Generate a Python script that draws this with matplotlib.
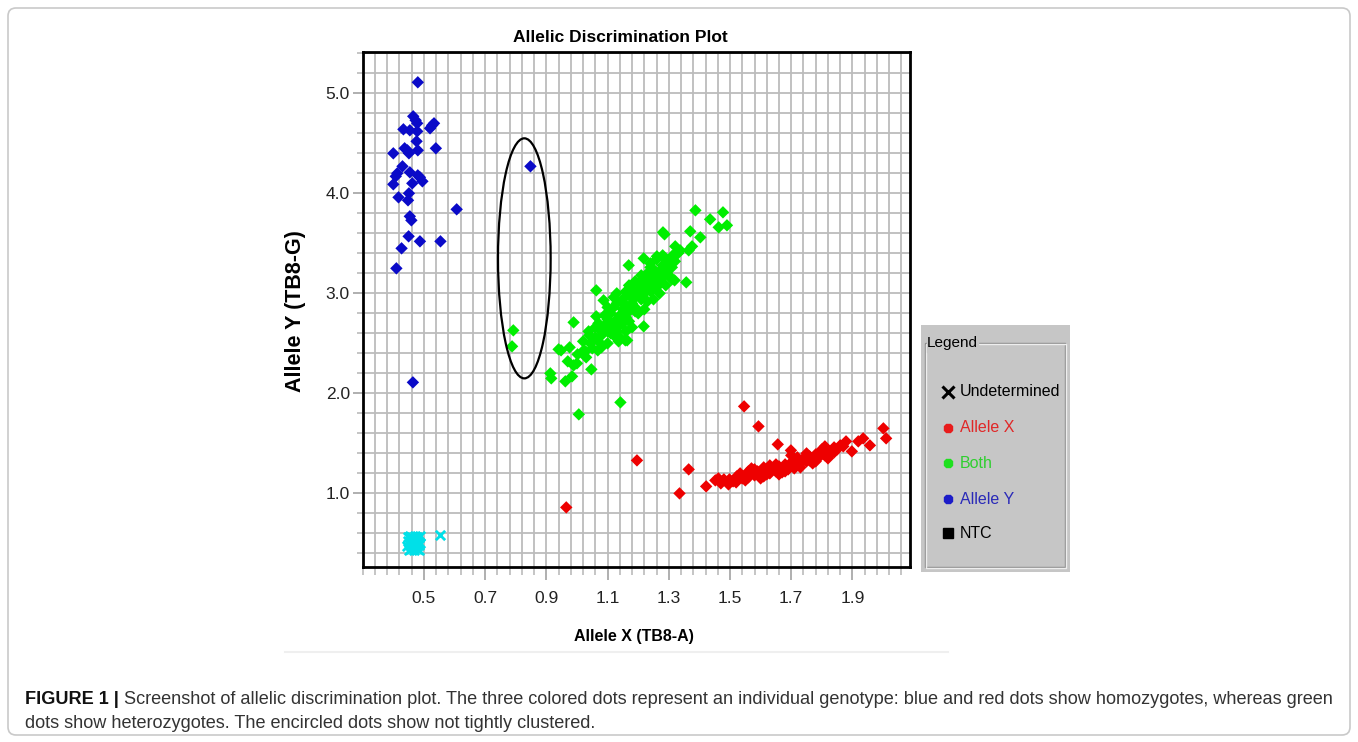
import matplotlib
matplotlib.use('Agg')
import matplotlib.pyplot as plt
import matplotlib.font_manager as fm
from matplotlib.patches import Ellipse, FancyBboxPatch
import numpy as np

# ---- data ----
allele_y_x = [0.480, 0.465, 0.473, 0.478, 0.433, 0.454, 0.478, 0.520, 0.527, 0.533,
              0.476, 0.400, 0.437, 0.446, 0.451, 0.480, 0.539, 0.413, 0.430, 0.454,
              0.480, 0.487, 0.400, 0.495, 0.462, 0.417, 0.451, 0.448, 0.607, 0.454,
              0.459, 0.450, 0.487, 0.554, 0.427, 0.410, 0.408, 0.464, 0.848]
allele_y_y = [5.11, 4.77, 4.73, 4.70, 4.64, 4.63, 4.62, 4.65, 4.68, 4.70,
              4.52, 4.40, 4.45, 4.43, 4.40, 4.43, 4.45, 4.20, 4.27, 4.21,
              4.18, 4.16, 4.09, 4.12, 4.10, 3.96, 4.00, 3.93, 3.84, 3.77,
              3.73, 3.57, 3.52, 3.52, 3.45, 3.25, 4.17, 2.11, 4.27]

both_x = [0.792, 0.788, 0.913, 0.916, 0.940, 0.948, 0.962, 0.976, 0.984, 0.989,
          0.989, 1.002, 1.006, 1.022, 1.028, 1.038, 1.044, 1.047, 1.063, 1.063,
          1.068, 1.077, 1.087, 1.093, 1.136, 1.142, 1.158, 1.164, 1.169, 1.218,
          1.218, 1.240, 1.261, 1.281, 1.286, 1.294, 1.310, 1.319, 1.321, 1.321,
          1.337, 1.357, 1.365, 1.370, 1.376, 1.387, 1.403, 1.435, 1.463, 1.477,
          1.490,
          1.08, 1.09, 1.10, 1.10, 1.11, 1.11, 1.12, 1.12, 1.13, 1.13,
          1.14, 1.14, 1.15, 1.15, 1.16, 1.16, 1.17, 1.17, 1.18, 1.18,
          1.19, 1.19, 1.20, 1.20, 1.21, 1.21, 1.22, 1.22, 1.23, 1.23,
          1.24, 1.24, 1.25, 1.25, 1.26, 1.26, 1.27, 1.27, 1.28, 1.28,
          1.29, 1.30, 1.30, 1.31, 1.32, 1.12, 1.15, 1.17, 1.06, 1.07,
          1.10, 1.05, 1.03, 1.08, 1.13, 1.20, 1.23, 1.16, 1.19, 1.26,
          1.02, 1.00, 0.97,
          1.10, 1.12, 1.14, 1.16, 1.18, 1.21, 1.24, 1.27, 1.29, 1.31,
          1.09, 1.06, 1.13, 1.17, 1.22, 1.25, 1.11, 1.15, 1.19, 1.23,
          1.28, 1.33, 1.04, 1.07]
both_y = [2.63, 2.47, 2.20, 2.15, 2.44, 2.43, 2.12, 2.46, 2.17, 2.28,
          2.71, 2.39, 1.79, 2.43, 2.42, 2.62, 2.50, 2.24, 3.03, 2.77,
          2.43, 2.63, 2.93, 2.65, 2.52, 1.91, 2.53, 2.53, 3.28, 3.35,
          2.67, 3.30, 3.37, 3.61, 3.59, 3.33, 3.37, 3.13, 3.40, 3.47,
          3.43, 3.11, 3.43, 3.62, 3.47, 3.83, 3.56, 3.74, 3.66, 3.81,
          3.68,
          2.58, 2.68, 2.62, 2.74, 2.70, 2.80, 2.66, 2.86, 2.74, 2.90,
          2.78, 2.68, 2.84, 2.94, 2.76, 2.88, 2.82, 2.98, 2.90, 3.04,
          2.86, 2.96, 3.00, 3.10, 2.94, 3.06, 3.14, 3.00, 3.08, 3.20,
          3.02, 3.14, 3.10, 3.24, 3.18, 3.06, 3.22, 3.12, 3.28, 3.16,
          3.22, 3.30, 3.18, 3.26, 3.32, 2.58, 2.70, 2.72, 2.56, 2.52,
          2.50, 2.45, 2.36, 2.46, 2.62, 2.80, 2.92, 3.02, 3.12, 3.34,
          2.52, 2.30, 2.32,
          2.86, 2.96, 2.56, 2.62, 2.66, 3.18, 3.26, 3.00, 3.08, 3.14,
          2.78, 2.66, 3.00, 3.08, 2.84, 2.94, 2.60, 2.78, 2.82, 3.12,
          3.38, 3.40, 2.58, 2.70]

allele_x_x = [0.965, 1.196, 1.335, 1.365, 1.546, 1.593, 1.656, 1.699, 2.001, 2.010,
              1.957, 1.935, 1.919, 1.898, 1.879,
              1.422, 1.452, 1.462, 1.480, 1.495, 1.498, 1.510, 1.522, 1.533, 1.540,
              1.550, 1.560, 1.570, 1.580, 1.590, 1.600, 1.610, 1.620, 1.630, 1.640,
              1.650, 1.660, 1.670, 1.680, 1.690, 1.700, 1.710, 1.720, 1.730, 1.740,
              1.750, 1.760, 1.770, 1.780, 1.790, 1.800, 1.810, 1.820, 1.830, 1.840,
              1.850, 1.860, 1.870, 1.630, 1.580, 1.680, 1.730, 1.780, 1.550, 1.600,
              1.660, 1.700, 1.750, 1.810, 1.520, 1.470, 1.570,
              1.560, 1.610, 1.650, 1.690, 1.720, 1.760, 1.800, 1.840, 1.620, 1.670,
              1.710, 1.770, 1.820]
allele_x_y = [0.86, 1.33, 1.00, 1.24, 1.87, 1.67, 1.49, 1.43, 1.65, 1.55,
              1.48, 1.55, 1.52, 1.42, 1.52,
              1.07, 1.13, 1.15, 1.14, 1.09, 1.14, 1.12, 1.17, 1.20, 1.15,
              1.18, 1.16, 1.20, 1.18, 1.22, 1.20, 1.17, 1.23, 1.20, 1.25,
              1.22, 1.27, 1.24, 1.29, 1.26, 1.31, 1.28, 1.33, 1.30, 1.35,
              1.32, 1.37, 1.34, 1.39, 1.36, 1.41, 1.38, 1.43, 1.40, 1.46,
              1.44, 1.48, 1.47, 1.28, 1.24, 1.22, 1.26, 1.32, 1.13, 1.15,
              1.19, 1.38, 1.40, 1.47, 1.11, 1.10, 1.25,
              1.22, 1.26, 1.29, 1.24, 1.36, 1.33, 1.44, 1.41, 1.19, 1.21,
              1.25, 1.30, 1.35]

ntc_x = [0.447, 0.455, 0.462, 0.470, 0.478, 0.486, 0.449, 0.458, 0.466, 0.474,
         0.482, 0.487, 0.446, 0.453, 0.461, 0.469, 0.477, 0.485, 0.450, 0.459,
         0.467, 0.476, 0.484, 0.552]
ntc_y = [0.56, 0.57, 0.56, 0.57, 0.56, 0.57, 0.52, 0.51, 0.52, 0.51,
         0.52, 0.50, 0.47, 0.48, 0.47, 0.46, 0.47, 0.48, 0.43, 0.44,
         0.43, 0.44, 0.43, 0.585]

x_labels = ['0.5', '0.7', '0.9', '1.1', '1.3', '1.5', '1.7', '1.9']
y_labels = ['1.0', '2.0', '3.0', '4.0', '5.0']
legend_names = ['Undetermined', 'Allele X', 'Both', 'Allele Y', 'NTC']

caption_bold = 'FIGURE 1 |'
caption_1 = ('Screenshot of allelic discrimination plot. The three colored dots represent an '
             'individual genotype: blue and red dots show homozygotes, whereas green')
caption_2 = 'dots show heterozygotes. The encircled dots show not tightly clustered.'

# ---- fonts ----
names = {f.name for f in fm.fontManager.ttflist}
NARROW = 'Liberation Sans Narrow' if 'Liberation Sans Narrow' in names else 'Liberation Sans'
plt.rcParams['font.family'] = ['Liberation Sans', 'DejaVu Sans']

W, H = 1358, 742
fig = plt.figure(figsize=(W / 100, H / 100), dpi=100)

# background axes in pixel coordinates
bg = fig.add_axes([0, 0, 1, 1], zorder=0)
bg.set_xlim(0, W)
bg.set_ylim(H, 0)
bg.axis('off')
bg.add_patch(FancyBboxPatch((8, 8), 1342, 727, boxstyle='round,pad=0,rounding_size=8',
                            fc='white', ec='#c9c9c9', lw=1.2))
bg.plot([285, 948], [652, 652], color='#efefef', lw=1.5)

bg.text(620, 38, 'Allelic Discrimination Plot', ha='center', va='center',
        family=NARROW, fontweight='bold', fontsize=12.5)
bg.text(634, 636, 'Allele X (TB8-A)', ha='center', va='center',
        family=NARROW, fontweight='bold', fontsize=11.5)
bg.text(296, 311, 'Allele Y (TB8-G)', ha='center', va='center', rotation=90,
        family='Liberation Sans', fontweight='bold', fontsize=15.5)

# main scatter plot
L, R, T, B = 362.7, 910, 52, 566.7
ax = fig.add_axes([L / W, 1 - B / H, (R - L) / W, (B - T) / H], zorder=2)
ax.set_xlim(0.302, 2.088)
ax.set_ylim(0.267, 5.413)
ax.set_xticks([float(s) for s in x_labels])
ax.set_xticklabels(x_labels)
ax.set_xticks(np.arange(0.30, 2.09, 0.04), minor=True)
ax.set_yticks([float(s) for s in y_labels])
ax.set_yticklabels(y_labels)
ax.set_yticks(np.arange(0.4, 5.41, 0.2), minor=True)
ax.set_axisbelow(True)
ax.grid(which='both', color='#bcbcbc', lw=1.3)
for s in ax.spines.values():
    s.set_linewidth(2)
    s.set_color('black')
ax.tick_params(axis='x', which='major', length=9.4, width=1.1, color='#9a9a9a', pad=8)
ax.tick_params(axis='x', which='minor', length=5.8, width=1.1, color='#b5b5b5')
ax.tick_params(axis='y', which='major', length=7.2, width=1.1, color='#9a9a9a', pad=2)
ax.tick_params(axis='y', which='minor', length=4.3, width=1.1, color='#b5b5b5')
for lab in ax.get_xticklabels() + ax.get_yticklabels():
    lab.set_family(NARROW)
    lab.set_fontsize(12.5)
    lab.set_color('#222222')

ax.scatter(ntc_x, ntc_y, marker='x', s=45, color='#00e0e8', linewidths=2, zorder=3)
ax.scatter(allele_x_x, allele_x_y, marker='D', s=40, color='#ee0000', edgecolors='none', zorder=3)
ax.scatter(both_x, both_y, marker='D', s=40, color='#00ee00', edgecolors='none', zorder=3)
ax.scatter(allele_y_x, allele_y_y, marker='D', s=40, color='#0a0ac8', edgecolors='none', zorder=4)
ax.add_patch(Ellipse((0.828, 3.35), 0.172, 2.40, fill=False, ec='black', lw=1.6, zorder=5))

# legend panel
lg = fig.add_axes([921 / W, 1 - 572 / H, 149 / W, 247 / H], zorder=2)
lg.set_xlim(921, 1070)
lg.set_ylim(572, 325)
lg.set_facecolor('#c6c6c6')
lg.set_xticks([])
lg.set_yticks([])
for s in lg.spines.values():
    s.set_visible(False)
for off, col in [(0, '#8c8c8c'), (1.2, '#eeeeee')]:
    lg.plot([925 + off, 925 + off, 1065 + off, 1065 + off, 925 + off],
            [343 + off, 567 + off, 567 + off, 343 + off, 343 + off],
            color=col, lw=1, solid_capstyle='butt')
lg.fill_between([927, 978], 336, 352, color='#c6c6c6', zorder=3)
lg.text(927, 343, 'Legend', ha='left', va='center', fontsize=11,
        family=NARROW, color='black', zorder=4)

legend_markers = ['x', '8', '8', '8', 's']
legend_marker_colors = ['black', '#e81c1c', '#1ee01e', '#1c1cc8', 'black']
legend_text_colors = ['black', '#e02828', '#2fcf2f', '#2a2ab8', 'black']
legend_rows = [392, 428, 463, 499, 533]
for name, m, mc, tc, yy in zip(legend_names, legend_markers, legend_marker_colors,
                               legend_text_colors, legend_rows):
    lg.plot([948], [yy], marker=m, color=mc, ms=9 if m == 'x' else 7,
            mew=2.2 if m == 'x' else 1, linestyle='none')
    lg.text(960, yy, name, ha='left', va='center', fontsize=11.5,
            family=NARROW, color=tc)

# caption
t_bold = bg.text(25, 700, caption_bold, ha='left', va='center', fontsize=13.1,
                 fontweight='bold', color='#111111')
fig.canvas.draw()
bb = t_bold.get_window_extent()
bg.text(bb.x1 + 5, 700, caption_1, ha='left', va='center', fontsize=13.1, color='#333333')
bg.text(25, 723, caption_2, ha='left', va='center', fontsize=13.1, color='#333333')

fig.savefig('out.png', dpi=100, facecolor='white')
